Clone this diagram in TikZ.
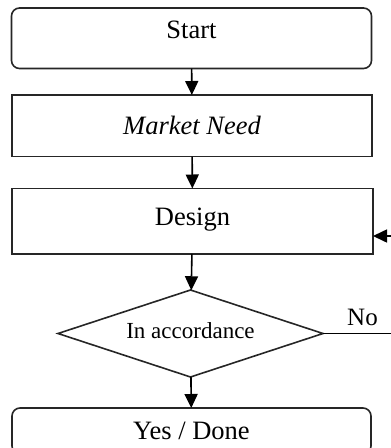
\documentclass[tikz,border=0pt]{standalone}
\usepackage{fontspec}
\setmainfont{Liberation Serif}
\usetikzlibrary{shapes.geometric,arrows.meta}
\begin{document}
\begin{tikzpicture}[x=1pt,y=-1pt,
  every node/.style={inner sep=0pt, outer sep=0pt},
  box/.style={draw=black!85, line width=1.6pt, minimum width=360pt},
  rbox/.style={box, rounded corners=8pt},
  bigtext/.style={font=\fontsize{26.5}{30}\selectfont},
  conn/.style={draw=black, line width=1.6pt, -{Triangle[length=14pt,width=13pt]}},
  line/.style={draw=black, line width=1.6pt}]
\clip (0,0) rectangle (391,448);
\useasboundingbox (0,0) rectangle (391,448);
\node[rbox, bigtext, minimum height=60.5pt, text height=16pt, text depth=16pt] (start) at (191.5,38.25) {Start};
\node[box, bigtext, minimum height=61.5pt] (market) at (192,125.75) {\itshape Market Need};
\node[box, bigtext, minimum width=361pt, minimum height=65.5pt, text depth=10pt] (design) at (192.5,221.25) {Design};
\node[diamond, shape aspect=3.05, draw=black!85, line width=1.6pt, minimum width=265pt, minimum height=87pt,
      font=\fontsize{23}{27}\selectfont, text height=15.6pt, text depth=6.6pt] (dec) at (190.5,333.5) {In accordance};
\node[rbox, bigtext, minimum width=359pt, minimum height=46pt] (done) at (191.5,431) {Yes / Done};
\coordinate (ret) at (410,333.5);
\coordinate (inpt) at (373,236);
\node[font=\fontsize{25}{30}\selectfont, anchor=base] (no) at (362.5,325) {No};
\draw[conn] (start) -- (market);
\draw[conn] (market) -- (design);
\draw[conn] (design) -- (dec);
\draw[conn] (dec) -- (done);
\draw[line] (dec.east) -- (ret);
\draw[conn] (ret) |- (inpt);
\end{tikzpicture}
\end{document}
